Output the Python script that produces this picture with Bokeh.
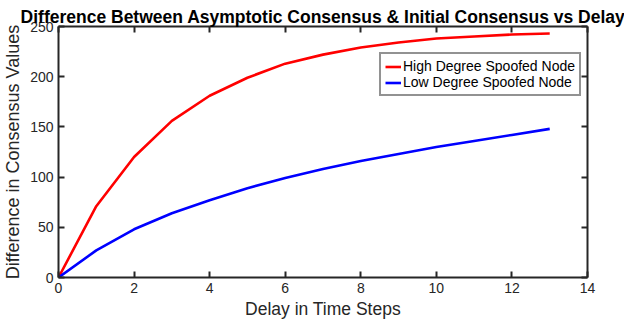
from bokeh.plotting import figure
from bokeh.models import LinearAxis, Range1d, Legend, LegendItem, FixedTicker
from bokeh.embed import file_html
from bokeh.resources import INLINE

title_text = "Difference Between Asymptotic Consensus & Initial Consensus vs Delay"
delay = [0, 1, 2, 3, 4, 5, 6, 7, 8, 9, 10, 11, 12, 13]
high_degree = [0, 71, 120, 156, 181, 199, 213, 222, 229, 234, 238, 240, 242, 243]
low_degree = [0, 27, 48, 64, 77, 89, 99, 108, 116, 123, 130, 136, 142, 148]
x_ticks = [0, 2, 4, 6, 8, 10, 12, 14]
y_ticks = [0, 50, 100, 150, 200, 250]

FONT = "Liberation Sans"
AX = "#262626"

p = figure(frame_width=529, frame_height=251, output_backend="svg", toolbar_location=None,
           x_range=Range1d(0, 14), y_range=Range1d(0, 250),
           min_border_left=57, min_border_right=37, min_border_top=26, min_border_bottom=36)
p.title.text = title_text
p.title.align = "center"
p.title.text_font = FONT
p.title.text_font_size = "17.5px"
p.title.text_font_style = "bold"
p.title.text_color = "black"
p.title.offset = 0
p.title.standoff = 0
p.grid.visible = False
p.outline_line_color = None
p.background_fill_color = "white"
p.border_fill_color = "white"

r1 = p.line(delay, high_degree, line_color="#ff0000", line_width=2.6)
r2 = p.line(delay, low_degree, line_color="#0000ff", line_width=2.6)

for ax in [p.xaxis[0], p.yaxis[0]]:
    ax.axis_line_color = AX
    ax.axis_line_width = 2
    ax.major_tick_line_color = AX
    ax.major_tick_line_width = 2
    ax.major_tick_in = 6
    ax.major_tick_out = 0
    ax.minor_tick_line_color = None
    ax.major_label_text_font = FONT
    ax.major_label_text_font_size = "14px"
    ax.major_label_text_color = AX
    ax.axis_label_text_font = FONT
    ax.axis_label_text_font_style = "normal"
    ax.axis_label_text_color = AX
p.xaxis[0].axis_label_text_font_size = "17.5px"
p.yaxis[0].axis_label_text_font_size = "18px"
p.xaxis[0].ticker = FixedTicker(ticks=x_ticks)
p.yaxis[0].ticker = FixedTicker(ticks=y_ticks)
p.xaxis[0].axis_label = "Delay in Time Steps"
p.yaxis[0].axis_label = "Difference in Consensus Values"
p.xaxis[0].major_label_standoff = 5
p.yaxis[0].major_label_standoff = 5
p.xaxis[0].axis_label_standoff = 3
p.yaxis[0].axis_label_standoff = 4

top = LinearAxis(ticker=FixedTicker(ticks=x_ticks), major_label_overrides={t: "" for t in x_ticks})
right = LinearAxis(ticker=FixedTicker(ticks=y_ticks), major_label_overrides={t: "" for t in y_ticks})
for ax in [top, right]:
    ax.axis_line_color = AX
    ax.axis_line_width = 2
    ax.major_tick_line_color = AX
    ax.major_tick_line_width = 2
    ax.major_tick_in = 6
    ax.major_tick_out = 0
    ax.minor_tick_line_color = None
    ax.major_label_standoff = 0
p.add_layout(top, "above")
p.add_layout(right, "right")

legend = Legend(items=[LegendItem(label="High Degree Spoofed Node", renderers=[r1]),
                       LegendItem(label="Low Degree Spoofed Node", renderers=[r2])],
                location=(321, 181))
legend.label_text_font = FONT
legend.label_text_font_size = "14px"
legend.label_text_color = "black"
legend.border_line_color = AX
legend.border_line_width = 2
legend.glyph_width = 16
legend.glyph_height = 15
legend.label_standoff = 2
legend.padding = 4
legend.spacing = 0
legend.margin = 0
legend.label_height = 15
p.add_layout(legend, "center")

open("out.html", "w").write(file_html(p, INLINE))
